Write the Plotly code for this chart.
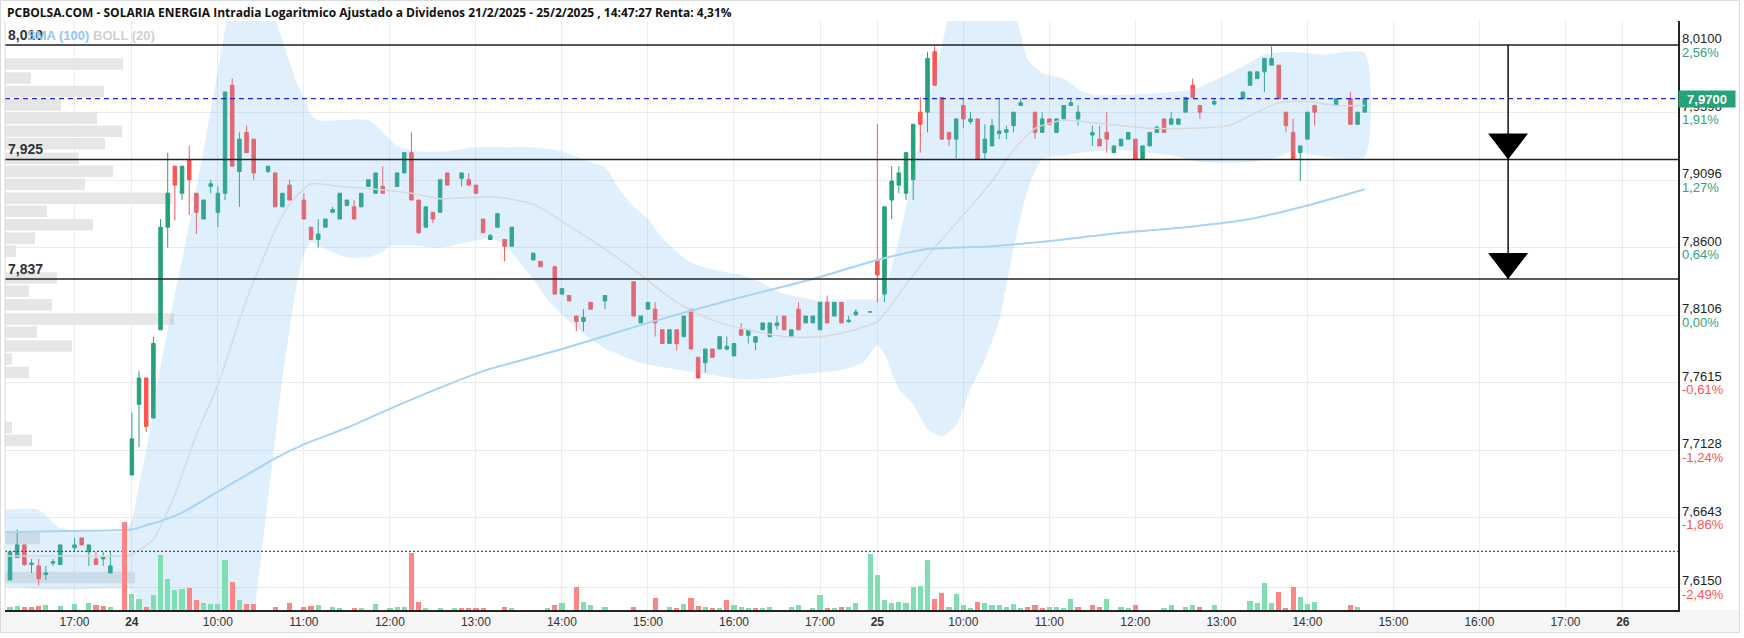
import math
import plotly.graph_objects as go

# ---------------------------------------------------------------- data
TITLE = ("PCBOLSA.COM - SOLARIA ENERGIA Intradia Logaritmico Ajustado a Dividenos "
         "21/2/2025 - 25/2/2025 , 14:47:27 Renta: 4,31%")

candle_time = [
    "21 16:10", "21 16:15", "21 16:20", "21 16:25", "21 16:30", "21 16:35", "21 16:40", "21 16:45",
    "21 16:50", "21 17:00", "21 17:05", "21 17:10", "21 17:15", "21 17:20", "21 17:25", "21 17:35",
    "24 09:00", "24 09:05", "24 09:10", "24 09:15", "24 09:20", "24 09:25", "24 09:30", "24 09:35",
    "24 09:40", "24 09:45", "24 09:50", "24 09:55", "24 10:00", "24 10:05", "24 10:10", "24 10:15",
    "24 10:20", "24 10:25", "24 10:35", "24 10:40", "24 10:45", "24 10:50", "24 11:00", "24 11:05",
    "24 11:10", "24 11:15", "24 11:20", "24 11:25", "24 11:30", "24 11:35", "24 11:40", "24 11:45",
    "24 11:50", "24 11:55", "24 12:05", "24 12:10", "24 12:15", "24 12:20", "24 12:25", "24 12:30",
    "24 12:35", "24 12:40", "24 12:50", "24 12:55", "24 13:00", "24 13:05", "24 13:10", "24 13:15",
    "24 13:20", "24 13:25", "24 13:40", "24 13:45", "24 13:55", "24 14:00", "24 14:05", "24 14:10",
    "24 14:15", "24 14:20", "24 14:30", "24 14:50", "24 14:55", "24 15:00", "24 15:05", "24 15:10",
    "24 15:15", "24 15:20", "24 15:25", "24 15:30", "24 15:35", "24 15:40", "24 15:45", "24 15:50",
    "24 15:55", "24 16:00", "24 16:05", "24 16:10", "24 16:15", "24 16:20", "24 16:25", "24 16:30",
    "24 16:35", "24 16:40", "24 16:45", "24 16:50", "24 16:55", "24 17:00", "24 17:05", "24 17:10",
    "24 17:15", "24 17:20", "24 17:25", "24 17:35",
    "25 09:00", "25 09:05", "25 09:10", "25 09:15", "25 09:20", "25 09:25", "25 09:30", "25 09:35",
    "25 09:40", "25 09:45", "25 09:50", "25 09:55", "25 10:00", "25 10:05", "25 10:10", "25 10:15",
    "25 10:20", "25 10:25", "25 10:30", "25 10:35", "25 10:40", "25 10:50", "25 10:55", "25 11:00",
    "25 11:05", "25 11:10", "25 11:15", "25 11:20", "25 11:30", "25 11:35", "25 11:40", "25 11:45",
    "25 11:50", "25 11:55", "25 12:00", "25 12:05", "25 12:10", "25 12:15", "25 12:20", "25 12:25",
    "25 12:30", "25 12:35", "25 12:40", "25 12:45", "25 12:55", "25 13:15", "25 13:20", "25 13:25",
    "25 13:30", "25 13:35", "25 13:40", "25 13:45", "25 13:50", "25 13:55", "25 14:00", "25 14:05",
    "25 14:20", "25 14:30", "25 14:35", "25 14:40",
]
candle_open = [
    7.640, 7.620, 7.636, 7.645, 7.631, 7.630, 7.624, 7.632, 7.631, 7.643, 7.650, 7.640, 7.635, 7.635, 7.625, 7.640,
    7.695, 7.746, 7.765, 7.736, 7.800, 7.875, 7.920, 7.900, 7.925, 7.900, 7.881, 7.905, 7.886, 7.900, 7.980, 7.916,
    7.945, 7.940, 7.916, 7.915, 7.890, 7.906, 7.895, 7.875, 7.866, 7.875, 7.886, 7.881, 7.891, 7.890, 7.890, 7.905,
    7.900, 7.905, 7.905, 7.915, 7.930, 7.895, 7.875, 7.886, 7.886, 7.915, 7.911, 7.910, 7.906, 7.881, 7.866, 7.875,
    7.866, 7.861, 7.851, 7.850, 7.846, 7.826, 7.825, 7.810, 7.806, 7.820, 7.821, 7.835, 7.805, 7.815, 7.815, 7.800,
    7.790, 7.800, 7.795, 7.815, 7.780, 7.776, 7.786, 7.786, 7.786, 7.781, 7.800, 7.796, 7.791, 7.800, 7.795, 7.803,
    7.810, 7.795, 7.815, 7.805, 7.805, 7.800, 7.820, 7.810, 7.820, 7.806, 7.811, 7.813,
    7.851, 7.826, 7.895, 7.906, 7.900, 7.910, 7.960, 7.960, 8.005, 7.971, 7.945, 7.940, 7.965, 7.953, 7.955, 7.930,
    7.935, 7.944, 7.945, 7.950, 7.965, 7.960, 7.945, 7.955, 7.945, 7.955, 7.965, 7.955, 7.943, 7.940, 7.945, 7.930,
    7.935, 7.940, 7.940, 7.925, 7.935, 7.945, 7.955, 7.951, 7.951, 7.960, 7.980, 7.965, 7.966, 7.970, 7.980, 7.985,
    7.990, 7.995, 7.995, 7.960, 7.945, 7.930, 7.940, 7.965, 7.965, 7.970, 7.951, 7.960,
]
candle_high = [
    7.640, 7.640, 7.656, 7.645, 7.635, 7.635, 7.630, 7.635, 7.645, 7.650, 7.650, 7.645, 7.640, 7.640, 7.640, 7.640,
    7.740, 7.770, 7.765, 7.795, 7.881, 7.930, 7.920, 7.920, 7.935, 7.900, 7.895, 7.910, 7.905, 7.975, 7.985, 7.945,
    7.950, 7.940, 7.920, 7.915, 7.900, 7.910, 7.900, 7.875, 7.881, 7.881, 7.890, 7.900, 7.895, 7.895, 7.900, 7.910,
    7.915, 7.920, 7.915, 7.930, 7.945, 7.895, 7.890, 7.886, 7.910, 7.915, 7.915, 7.915, 7.906, 7.881, 7.870, 7.885,
    7.866, 7.875, 7.856, 7.850, 7.846, 7.830, 7.825, 7.810, 7.815, 7.820, 7.825, 7.835, 7.810, 7.820, 7.820, 7.800,
    7.800, 7.800, 7.810, 7.815, 7.780, 7.786, 7.786, 7.795, 7.795, 7.790, 7.805, 7.800, 7.795, 7.805, 7.805, 7.810,
    7.810, 7.800, 7.820, 7.810, 7.810, 7.820, 7.825, 7.820, 7.820, 7.810, 7.815, 7.813,
    7.951, 7.890, 7.920, 7.920, 7.930, 7.951, 7.971, 8.005, 8.009, 7.971, 7.945, 7.955, 7.970, 7.960, 7.955, 7.951,
    7.955, 7.970, 7.950, 7.960, 7.970, 7.960, 7.960, 7.955, 7.955, 7.965, 7.970, 7.965, 7.950, 7.950, 7.960, 7.935,
    7.940, 7.945, 7.940, 7.935, 7.945, 7.950, 7.955, 7.960, 7.955, 7.971, 7.985, 7.965, 7.970, 7.975, 7.990, 7.990,
    8.000, 8.009, 7.995, 7.960, 7.955, 7.935, 7.960, 7.965, 7.970, 7.975, 7.960, 7.970,
]
candle_low = [
    7.626, 7.620, 7.636, 7.630, 7.625, 7.616, 7.620, 7.630, 7.631, 7.640, 7.645, 7.630, 7.631, 7.630, 7.625, 7.640,
    7.695, 7.715, 7.726, 7.736, 7.800, 7.860, 7.880, 7.895, 7.884, 7.870, 7.881, 7.900, 7.875, 7.895, 7.920, 7.890,
    7.930, 7.910, 7.915, 7.890, 7.890, 7.895, 7.881, 7.866, 7.860, 7.875, 7.886, 7.881, 7.891, 7.881, 7.890, 7.905,
    7.900, 7.900, 7.905, 7.915, 7.895, 7.870, 7.875, 7.878, 7.886, 7.906, 7.905, 7.906, 7.900, 7.871, 7.866, 7.875,
    7.850, 7.861, 7.851, 7.846, 7.826, 7.826, 7.821, 7.799, 7.799, 7.815, 7.815, 7.810, 7.805, 7.815, 7.795, 7.790,
    7.790, 7.785, 7.795, 7.786, 7.765, 7.769, 7.780, 7.786, 7.785, 7.781, 7.796, 7.790, 7.785, 7.800, 7.795, 7.800,
    7.800, 7.795, 7.800, 7.805, 7.805, 7.800, 7.805, 7.810, 7.805, 7.805, 7.810, 7.813,
    7.820, 7.820, 7.881, 7.900, 7.895, 7.895, 7.930, 7.945, 7.980, 7.940, 7.935, 7.926, 7.948, 7.951, 7.925, 7.925,
    7.935, 7.940, 7.940, 7.945, 7.965, 7.940, 7.945, 7.951, 7.945, 7.955, 7.965, 7.950, 7.935, 7.935, 7.930, 7.930,
    7.935, 7.940, 7.925, 7.925, 7.935, 7.945, 7.945, 7.951, 7.951, 7.960, 7.971, 7.955, 7.965, 7.970, 7.980, 7.985,
    7.975, 7.995, 7.970, 7.945, 7.925, 7.909, 7.940, 7.950, 7.965, 7.951, 7.951, 7.960,
]
candle_close = [
    7.626, 7.640, 7.645, 7.631, 7.632, 7.621, 7.625, 7.633, 7.645, 7.645, 7.645, 7.645, 7.631, 7.636, 7.630, 7.640,
    7.721, 7.765, 7.730, 7.790, 7.875, 7.900, 7.906, 7.920, 7.910, 7.886, 7.895, 7.907, 7.900, 7.975, 7.920, 7.940,
    7.930, 7.915, 7.920, 7.890, 7.900, 7.895, 7.881, 7.866, 7.870, 7.881, 7.888, 7.900, 7.895, 7.881, 7.900, 7.910,
    7.915, 7.900, 7.915, 7.930, 7.895, 7.871, 7.890, 7.881, 7.910, 7.906, 7.915, 7.906, 7.900, 7.871, 7.869, 7.885,
    7.861, 7.875, 7.856, 7.846, 7.826, 7.830, 7.821, 7.806, 7.809, 7.815, 7.825, 7.810, 7.810, 7.820, 7.805, 7.790,
    7.800, 7.790, 7.810, 7.786, 7.765, 7.786, 7.780, 7.795, 7.788, 7.790, 7.796, 7.800, 7.795, 7.805, 7.805, 7.805,
    7.800, 7.800, 7.800, 7.810, 7.810, 7.820, 7.805, 7.820, 7.805, 7.807, 7.813, 7.813,
    7.840, 7.890, 7.909, 7.915, 7.930, 7.951, 7.951, 8.000, 7.980, 7.940, 7.940, 7.955, 7.955, 7.955, 7.925, 7.940,
    7.950, 7.946, 7.947, 7.960, 7.967, 7.945, 7.955, 7.951, 7.955, 7.965, 7.967, 7.960, 7.945, 7.935, 7.940, 7.935,
    7.940, 7.945, 7.925, 7.935, 7.945, 7.949, 7.945, 7.955, 7.955, 7.971, 7.971, 7.960, 7.968, 7.975, 7.990, 7.990,
    8.000, 8.000, 7.970, 7.950, 7.925, 7.935, 7.960, 7.960, 7.970, 7.951, 7.960, 7.970,
]

vol_time = [
    "21 16:15", "21 16:20", "21 16:25", "21 16:30", "21 16:35", "21 16:40", "21 16:50", "21 17:00",
    "21 17:10", "21 17:15", "21 17:20", "21 17:25", "21 17:35",
    "24 09:00", "24 09:05", "24 09:10", "24 09:15", "24 09:20", "24 09:25", "24 09:30", "24 09:35",
    "24 09:40", "24 09:45", "24 09:50", "24 09:55", "24 10:00", "24 10:05", "24 10:10", "24 10:15",
    "24 10:20", "24 10:25", "24 10:40", "24 10:50", "24 11:00", "24 11:05", "24 11:10", "24 11:20",
    "24 11:25", "24 11:35", "24 11:40", "24 11:50", "24 12:00", "24 12:05", "24 12:10", "24 12:15",
    "24 12:20", "24 12:25", "24 12:35", "24 12:45", "24 12:50", "24 12:55", "24 13:00", "24 13:05",
    "24 13:20", "24 13:25", "24 13:50", "24 13:55", "24 14:00", "24 14:10", "24 14:15", "24 14:20",
    "24 14:30", "24 14:50", "24 15:05", "24 15:15", "24 15:20", "24 15:25", "24 15:30", "24 15:35",
    "24 15:40", "24 15:45", "24 15:50", "24 15:55", "24 16:00", "24 16:05", "24 16:10", "24 16:15",
    "24 16:20", "24 16:25", "24 16:40", "24 16:45", "24 16:55", "24 17:00", "24 17:05", "24 17:10",
    "24 17:15", "24 17:20", "24 17:25", "24 17:35",
    "25 09:00", "25 09:05", "25 09:10", "25 09:15", "25 09:20", "25 09:25", "25 09:30", "25 09:35",
    "25 09:40", "25 09:45", "25 09:50", "25 09:55", "25 10:00", "25 10:05", "25 10:10", "25 10:15",
    "25 10:20", "25 10:25", "25 10:30", "25 10:35", "25 10:40", "25 10:45", "25 10:50", "25 10:55",
    "25 11:00", "25 11:05", "25 11:10", "25 11:15", "25 11:20", "25 11:30", "25 11:35", "25 11:40",
    "25 11:50", "25 11:55", "25 12:00", "25 12:20", "25 12:25", "25 12:35", "25 12:40", "25 12:45",
    "25 12:55", "25 13:20", "25 13:25", "25 13:30", "25 13:35", "25 13:40", "25 13:45", "25 13:50",
    "25 13:55", "25 14:00", "25 14:05", "25 14:30", "25 14:35",
]
vol_shares = [  # thousands of shares
    3, 4, 3, 3, 4, 5, 4, 6, 7, 5, 4, 3, 88,
    16, 11, 3, 15, 55, 31, 20, 21, 22, 10, 7, 6, 6, 50, 28, 10,
    6, 6, 3, 7, 3, 4, 5, 3, 2, 2, 2, 6, 2, 3, 3, 57,
    8, 2, 2, 2, 2, 2, 2, 2, 3, 2, 2, 5, 7, 23, 8, 5,
    3, 3, 12, 3, 2, 6, 12, 4, 3, 2, 2, 10, 5, 3, 2, 2,
    2, 3, 3, 5, 2, 15, 2, 2, 3, 3, 7, 56,
    35, 10, 7, 8, 7, 23, 24, 50, 11, 17, 3, 16, 5, 2, 8, 7,
    5, 5, 3, 6, 2, 3, 5, 2, 3, 3, 2, 11, 3, 5, 3, 11,
    3, 2, 5, 2, 5, 3, 5, 3, 5, 9, 7, 27, 7, 18, 2, 23,
    13, 6, 8, 5, 3,
]
vol_up = [
    1, 1, 0, 0, 0, 1, 1, 1, 1, 0, 0, 1, 0,
    1, 1, 0, 1, 1, 1, 1, 1, 0, 0, 1, 1, 1, 1, 0, 1,
    0, 0, 0, 0, 0, 0, 1, 1, 1, 0, 1, 1, 1, 1, 1, 0,
    0, 1, 1, 1, 0, 0, 0, 0, 0, 1, 1, 0, 1, 0, 1, 1,
    1, 0, 0, 1, 0, 1, 0, 0, 1, 0, 1, 0, 1, 1, 1, 0,
    1, 1, 1, 1, 1, 1, 0, 1, 0, 1, 1, 1,
    1, 1, 1, 1, 1, 1, 1, 1, 0, 0, 1, 1, 1, 1, 0, 1,
    1, 1, 1, 1, 1, 0, 0, 0, 1, 1, 1, 1, 0, 0, 0, 1,
    1, 1, 0, 1, 1, 1, 1, 0, 1, 1, 1, 1, 1, 0, 0, 0,
    1, 1, 1, 0, 1,
]

sma100_time = ["21 16:10", "21 16:55", "24 09:00", "24 09:10", "24 09:20", "24 09:35", "24 10:00",
               "24 10:20", "24 10:40", "24 11:00", "24 11:30", "24 12:05", "24 12:35", "24 13:05",
               "24 14:00", "24 15:00", "24 15:55", "24 16:55", "25 09:00", "25 09:35", "25 10:20",
               "25 11:10", "25 11:50", "25 12:35", "25 13:20", "25 14:00", "25 14:40"]
sma100_value = [7.654, 7.655, 7.656, 7.659, 7.662, 7.668, 7.683, 7.695, 7.707, 7.717, 7.729,
                7.745, 7.758, 7.770, 7.786, 7.805, 7.821, 7.837, 7.851, 7.859, 7.861, 7.866,
                7.871, 7.875, 7.881, 7.891, 7.903]

boll_mid_time = ["21 16:10", "21 16:55", "21 17:35", "24 09:00", "24 09:15", "24 09:30", "24 09:45",
                 "24 10:00", "24 10:10", "24 10:20", "24 10:30", "24 10:40", "24 10:50", "24 11:05",
                 "24 11:25", "24 11:50", "24 12:15", "24 12:35", "24 12:55", "24 13:15", "24 13:40",
                 "24 14:05", "24 14:30", "24 14:55", "24 15:20", "24 15:45", "24 16:10", "24 16:35",
                 "24 17:00", "24 17:20", "25 09:00", "25 09:20", "25 09:40", "25 10:00", "25 10:20",
                 "25 10:35", "25 10:50", "25 11:10", "25 11:40", "25 12:10", "25 12:40", "25 13:05",
                 "25 13:25", "25 13:40", "25 14:00", "25 14:20", "25 14:40"]
boll_mid = [7.637, 7.637, 7.637, 7.638, 7.649, 7.681, 7.724, 7.760, 7.791, 7.822, 7.848, 7.873,
            7.892, 7.907, 7.905, 7.903, 7.900, 7.896, 7.897, 7.897, 7.892, 7.876, 7.859, 7.840,
            7.820, 7.807, 7.800, 7.795, 7.795, 7.799, 7.806, 7.833, 7.860, 7.884, 7.909, 7.932,
            7.948, 7.954, 7.951, 7.948, 7.948, 7.950, 7.960, 7.967, 7.968, 7.965, 7.965]

boll_up_time = ["21 16:10", "21 16:35", "21 16:50", "21 17:35", "24 09:00", "24 09:05", "24 09:10",
                "24 09:15", "24 09:20", "24 09:30", "24 09:40", "24 09:50", "24 10:00", "24 10:05",
                "24 10:10", "24 10:20", "24 10:30", "24 10:35", "24 10:40", "24 10:45", "24 10:50",
                "24 10:55", "24 11:00", "24 11:05", "24 11:10", "24 11:25", "24 11:45", "24 11:55",
                "24 12:05", "24 12:20", "24 12:40", "24 13:00", "24 13:20", "24 13:40", "24 14:00",
                "24 14:15", "24 14:30", "24 14:40", "24 14:50", "24 15:00", "24 15:10", "24 15:20",
                "24 15:30", "24 15:45", "24 16:05", "24 16:20", "24 16:30", "24 16:45", "24 17:00",
                "24 17:20", "24 17:35", "25 09:00", "25 09:05", "25 09:15", "25 09:25", "25 09:35",
                "25 09:45", "25 09:50", "25 10:00", "25 10:15", "25 10:30", "25 10:40", "25 10:45",
                "25 10:55", "25 11:10", "25 11:20", "25 11:30", "25 11:55", "25 12:15", "25 12:40",
                "25 13:00", "25 13:15", "25 13:30", "25 13:45", "25 14:10", "25 14:40"]
boll_up = [7.670, 7.670, 7.657, 7.655, 7.663, 7.688, 7.713, 7.742, 7.773, 7.826, 7.877, 7.932,
           7.991, 8.021, 8.051, 8.089, 8.081, 8.051, 8.029, 8.014, 7.997, 7.982, 7.971, 7.958,
           7.954, 7.954, 7.954, 7.945, 7.935, 7.931, 7.931, 7.934, 7.934, 7.934, 7.931, 7.925,
           7.919, 7.903, 7.890, 7.881, 7.867, 7.857, 7.849, 7.844, 7.840, 7.834, 7.828, 7.824,
           7.821, 7.822, 7.822, 7.822, 7.829, 7.866, 7.914, 7.965, 8.010, 8.032, 8.066, 8.081,
           8.059, 8.018, 7.999, 7.989, 7.985, 7.977, 7.973, 7.973, 7.974, 7.977, 7.986, 7.994,
           8.003, 8.005, 8.003, 8.004]

boll_low_time = ["21 16:10", "21 16:50", "21 17:35", "24 09:00", "24 09:10", "24 09:20", "24 09:35",
                 "24 09:50", "24 10:05", "24 10:15", "24 10:25", "24 10:30", "24 10:35", "24 10:40",
                 "24 10:45", "24 10:50", "24 10:55", "24 11:00", "24 11:05", "24 11:15", "24 11:30",
                 "24 11:45", "24 11:55", "24 12:00", "24 12:15", "24 12:35", "24 12:55", "24 13:10",
                 "24 13:20", "24 13:30", "24 13:40", "24 13:50", "24 14:05", "24 14:20", "24 14:35",
                 "24 14:55", "24 15:15", "24 15:40", "24 16:05", "24 16:25", "24 16:50", "24 17:15",
                 "24 17:30", "25 09:00", "25 09:05", "25 09:15", "25 09:25", "25 09:35", "25 09:45",
                 "25 09:55", "25 10:05", "25 10:15", "25 10:25", "25 10:35", "25 10:45", "25 10:55",
                 "25 11:10", "25 11:30", "25 11:50", "25 12:25", "25 12:45", "25 13:20", "25 13:40",
                 "25 13:50", "25 14:05", "25 14:40"]
boll_low = [7.615, 7.613, 7.614, 7.613, 7.592, 7.563, 7.535, 7.521, 7.535, 7.563, 7.595, 7.635,
            7.678, 7.721, 7.764, 7.800, 7.833, 7.855, 7.864, 7.859, 7.853, 7.853, 7.857, 7.861,
            7.862, 7.860, 7.864, 7.867, 7.862, 7.850, 7.837, 7.822, 7.806, 7.793, 7.784, 7.776,
            7.772, 7.768, 7.764, 7.765, 7.768, 7.771, 7.776, 7.789, 7.782, 7.757, 7.746, 7.728,
            7.723, 7.731, 7.757, 7.778, 7.807, 7.859, 7.903, 7.925, 7.928, 7.931, 7.932, 7.928,
            7.923, 7.923, 7.927, 7.931, 7.928, 7.927]

profile_price = [7.9958, 7.9854, 7.9754, 7.9654, 7.9554, 7.9458, 7.9365, 7.9258, 7.9162, 7.9066,
                 7.8963, 7.8868, 7.8768, 7.8670, 7.8574, 7.8377, 7.8282, 7.8183, 7.8078, 7.7983,
                 7.7882, 7.7788, 7.7690, 7.7292, 7.7199, 7.6496, 7.6218]
profile_volume = [118, 26, 99, 56, 92, 117, 100, 74, 108, 80, 167, 42, 88, 30, 11, 52, 24, 47,
                  169, 32, 67, 7, 24, 7, 27, 35, 130]

level_price = [8.010, 7.925, 7.837]
level_label = ["8,010", "7,925", "7,837"]
last_price = 7.970
last_label = "7,9700"
prev_close = 7.6404
arrow_time = "25 16:20"

axis_price = [8.0100, 7.9596, 7.9096, 7.8600, 7.8106, 7.7615, 7.7128, 7.6643, 7.6150]
axis_price_text = ["8,0100", "7,9596", "7,9096", "7,8600", "7,8106", "7,7615", "7,7128", "7,6643", "7,6150"]
axis_pct_text = ["2,56%", "1,91%", "1,27%", "0,64%", "0,00%", "-0,61%", "-1,24%", "-1,86%", "-2,49%"]

time_tick = ["21 17:00", "24 09:00", "24 10:00", "24 11:00", "24 12:00", "24 13:00", "24 14:00",
             "24 15:00", "24 16:00", "24 17:00", "25 09:00", "25 10:00", "25 11:00", "25 12:00",
             "25 13:00", "25 14:00", "25 15:00", "25 16:00", "25 17:00", "26 09:00"]
time_tick_text = ["17:00", "<b>24</b>", "10:00", "11:00", "12:00", "13:00", "14:00", "15:00",
                  "16:00", "17:00", "<b>25</b>", "10:00", "11:00", "12:00", "13:00", "14:00",
                  "15:00", "16:00", "17:00", "<b>26</b>"]

# ---------------------------------------------------------------- scales
DAYS = ["21", "24", "25", "26"]
SLOTS_PER_DAY = 104          # 09:00 .. 17:40, 5-minute steps (no gaps between sessions)


def slot(stamp):
    d, hm = stamp.split()
    h, m = hm.split(":")
    return DAYS.index(d) * SLOTS_PER_DAY + (int(h) * 60 + int(m) - 540) / 5.0


W, H = 1744, 638
ML, MR, MT, MB = 5, 66, 21, 28
PW, PH = W - ML - MR, H - MT - MB
X_RANGE = [86.3, 319.7]
Y_RANGE = [7.5987, 8.0280]
LOG_RANGE = [math.log10(v) for v in Y_RANGE]
LOG_PER_PX = (LOG_RANGE[1] - LOG_RANGE[0]) / PH

GREEN = "#26a17a"
RED = "#ff5252"
VGREEN = "#80dfb1"
VRED = "#ff8585"
FONT = "Liberation Sans"

cx = [slot(t) for t in candle_time]

fig = go.Figure()

# volume profile (main subplot: drawn underneath everything)
px_, py_ = [], []
for p, v in zip(profile_price, profile_volume):
    px_ += [0, v, None]
    py_ += [p, p, None]
fig.add_trace(go.Scatter(x=px_, y=py_, mode="lines", xaxis="x", yaxis="y",
                         line=dict(color="#e6e6e6", width=11.5), hoverinfo="skip"))

# Bollinger band fill
bx = [slot(t) for t in boll_up_time] + [slot(t) for t in reversed(boll_low_time)]
by = boll_up + boll_low[::-1]
fig.add_trace(go.Scatter(x=bx, y=by, mode="lines", fill="toself", xaxis="x2", yaxis="y",
                         fillcolor="rgba(110,185,240,0.22)", line=dict(width=0, shape="spline", smoothing=0.6),
                         hoverinfo="skip"))
fig.add_trace(go.Scatter(x=[slot(t) for t in boll_mid_time], y=boll_mid, mode="lines",
                         xaxis="x2", yaxis="y", line=dict(color="#d9d9d9", width=1.5, shape="spline", smoothing=0.6),
                         hoverinfo="skip"))
fig.add_trace(go.Scatter(x=[slot(t) for t in sma100_time], y=sma100_value, mode="lines",
                         xaxis="x2", yaxis="y", line=dict(color="#a7d3f7", width=2, shape="spline", smoothing=0.6),
                         hoverinfo="skip"))

# horizontal levels
for p in level_price:
    fig.add_trace(go.Scatter(x=X_RANGE, y=[p, p], mode="lines", xaxis="x2", yaxis="y",
                             line=dict(color="#222222", width=1.5), hoverinfo="skip"))
fig.add_trace(go.Scatter(x=X_RANGE, y=[last_price, last_price], mode="lines", xaxis="x2", yaxis="y",
                         line=dict(color="#2323d6", width=1.2, dash="5px,4px"), hoverinfo="skip"))
fig.add_trace(go.Scatter(x=X_RANGE, y=[prev_close, prev_close], mode="lines", xaxis="x2", yaxis="y",
                         line=dict(color="#555555", width=1.3, dash="2px,2px"), hoverinfo="skip"))

# candles
fig.add_trace(go.Candlestick(x=cx, open=candle_open, high=candle_high, low=candle_low, close=candle_close,
                             xaxis="x2", yaxis="y", whiskerwidth=0,
                             increasing=dict(line=dict(color=GREEN, width=1), fillcolor=GREEN),
                             decreasing=dict(line=dict(color=RED, width=1), fillcolor=RED),
                             hoverinfo="skip"))

# target arrows
ax_ = slot(arrow_time)
fig.add_trace(go.Scatter(x=[ax_, ax_], y=[level_price[0], level_price[2]], mode="lines",
                         xaxis="x2", yaxis="y", line=dict(color="#111111", width=1.5), hoverinfo="skip"))
TRI = 34.6
tip_shift = 10 ** ((TRI / 2) * LOG_PER_PX)
fig.add_trace(go.Scatter(x=[ax_, ax_], y=[level_price[1] * tip_shift, level_price[2] * tip_shift],
                         mode="markers", xaxis="x2", yaxis="y", cliponaxis=False,
                         marker=dict(symbol="triangle-down", size=TRI, color="#000000", line=dict(width=0)),
                         hoverinfo="skip"))

# volume
fig.add_trace(go.Bar(x=[slot(t) for t in vol_time], y=[v * 1000 for v in vol_shares],
                     xaxis="x2", yaxis="y2", width=0.72,
                     marker=dict(color=[VGREEN if u else VRED for u in vol_up], line=dict(width=0)),
                     hoverinfo="skip"))

# ---------------------------------------------------------------- annotations
ann = []
ann.append(dict(text="<b>" + TITLE + "</b>", xref="paper", yref="paper", x=0, y=1,
                xanchor="left", yanchor="middle", xshift=0, yshift=9, showarrow=False,
                font=dict(family="Open Sans", size=12, color="#111111")))
for p, t in zip(level_price, level_label):
    ann.append(dict(text="<b>" + t + "</b>", xref="paper", yref="y", x=0, y=math.log10(p),
                    xanchor="left", yanchor="bottom", xshift=1, yshift=0, showarrow=False,
                    font=dict(family=FONT, size=14, color="#333333")))
ann.append(dict(text="<b><span style='color:#90c8f5'>SMA (100)</span> <span style='color:#d0d0d0'>BOLL (20)</span></b>",
                xref="paper", yref="paper", x=0, y=1, xanchor="left", yanchor="middle",
                xshift=20, yshift=-14, showarrow=False, font=dict(family=FONT, size=13)))
for p, t, pc in zip(axis_price, axis_price_text, axis_pct_text):
    ann.append(dict(text=t, xref="paper", yref="y", x=1, y=math.log10(p), xanchor="left",
                    yanchor="middle", xshift=2, yshift=6.5, showarrow=False,
                    font=dict(family=FONT, size=13, color="#222222")))
    ann.append(dict(text=pc, xref="paper", yref="y", x=1, y=math.log10(p), xanchor="left",
                    yanchor="middle", xshift=2, yshift=-7, showarrow=False,
                    font=dict(family=FONT, size=13, color=RED if pc.startswith("-") else "#33a37a")))
ann.append(dict(text="<b>" + last_label + "</b>", xref="paper", yref="y", x=1, y=math.log10(last_price),
                xanchor="left", yanchor="middle", xshift=0, showarrow=False, bgcolor=GREEN,
                width=54, height=14, borderpad=1, font=dict(family=FONT, size=13, color="#ffffff")))

shapes = [
    dict(type="rect", xref="paper", yref="paper", x0=-5 / PW, x1=(W - 9) / PW, y0=-(MB - 5) / PH, y1=0,
         fillcolor="#f6f6f6", line=dict(width=0), layer="below"),
    dict(type="rect", xref="paper", yref="paper", x0=-4.5 / PW, x1=(W - 9.5) / PW,
         y0=-(MB - 5.5) / PH, y1=(PH + MT - 0.5) / PH, line=dict(color="#dcdcdc", width=1)),
    dict(type="line", xref="paper", yref="paper", x0=0, x1=0, y0=0, y1=1,
         line=dict(color="#dddddd", width=1)),
]

fig.update_layout(
    width=W, height=H, margin=dict(l=ML, r=MR, t=MT, b=MB),
    paper_bgcolor="#ffffff", plot_bgcolor="#ffffff", showlegend=False,
    annotations=ann, shapes=shapes, bargap=0,
    xaxis=dict(domain=[0, 1], range=[0, PW], visible=False, fixedrange=True),
    xaxis2=dict(overlaying="x", anchor="y", side="bottom", range=X_RANGE,
                tickmode="array", tickvals=[slot(t) for t in time_tick], ticktext=time_tick_text,
                showgrid=True, gridcolor="#ececec", gridwidth=1.2, zeroline=False,
                showline=True, linecolor="#222222", linewidth=1.5, ticks="",
                tickfont=dict(family=FONT, size=12, color="#333333"),
                rangeslider=dict(visible=False)),
    yaxis=dict(type="log", range=LOG_RANGE, side="right", anchor="x",
               tickmode="array", tickvals=axis_price, showticklabels=False, ticks="",
               showgrid=True, gridcolor="#ececec", gridwidth=1.2, zeroline=False,
               showline=True, linecolor="#222222", linewidth=1.5),
    yaxis2=dict(overlaying="y", anchor="x2", range=[0, PH * 1000], visible=False),
)

fig.write_html("out.html")
